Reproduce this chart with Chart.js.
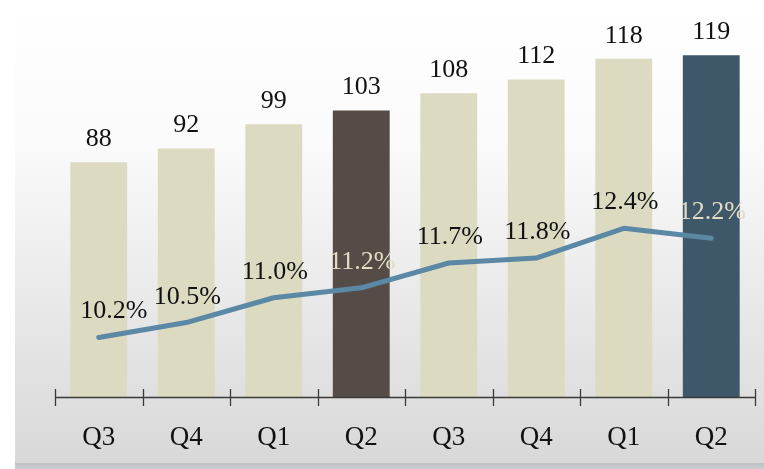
<!DOCTYPE html>
<html>
<head>
<meta charset="utf-8">
<script src="https://cdn.jsdelivr.net/npm/chart.js@4/dist/chart.umd.min.js"></script>
<style>
  html, body { margin: 0; padding: 0; background: #fff; }
  #wrap { position: relative; width: 764px; height: 469px; overflow: hidden; }
  #panel {
    position: absolute; left: 15px; top: 0; width: 749px; height: 463px;
    background: linear-gradient(to bottom, #ffffff 0%, #fbfbfb 30%, #e9e9e9 65%, #d8d8d8 100%);
  }
  #strip {
    position: absolute; left: 15px; top: 463px; width: 749px; height: 6px;
    background: linear-gradient(to bottom, #bcc0c3, #cdd0d2);
  }
  canvas { position: absolute; left: 0; top: 0; }
</style>
</head>
<body>
<div id="wrap">
  <div id="panel"></div>
  <div id="strip"></div>
  <canvas id="chart" width="764" height="469"></canvas>
</div>
<script>
// data
var quarters = ["Q3", "Q4", "Q1", "Q2", "Q3", "Q4", "Q1", "Q2"];
var volumes = [88, 92, 99, 103, 108, 112, 118, 119];
var margins = [10.2, 10.5, 11.0, 11.2, 11.7, 11.8, 12.4, 12.2];

var light = '#dcdac1';
var barColors = [light, light, light, '#554b47', light, light, light, '#3e5869'];
var pctColors = ['#111', '#111', '#111', '#e2dcc4', '#111', '#111', '#111', '#e2dcc4'];
var FONT = "'Liberation Serif', 'Times New Roman', serif";

// axis line with ticks crossing it, category labels, value labels
var labelsPlugin = {
    id: 'labelsPlugin',
    afterDatasetsDraw: function (chart) {
        var ctx = chart.ctx;
        var x = chart.scales.x;
        var bottom = chart.chartArea.bottom;

        ctx.save();
        ctx.strokeStyle = '#3a3a3a';
        ctx.lineWidth = 1.3;
        ctx.beginPath();
        ctx.moveTo(x.left, bottom + 0.5);
        ctx.lineTo(x.right, bottom + 0.5);
        var step = x.width / quarters.length;
        for (var i = 0; i <= quarters.length; i++) {
            var tx = Math.round(x.left + i * step) + 0.5;
            ctx.moveTo(tx, bottom - 8);
            ctx.lineTo(tx, bottom + 9);
        }
        ctx.stroke();

        ctx.font = '27px ' + FONT;
        ctx.textAlign = 'center';
        ctx.textBaseline = 'alphabetic';
        ctx.fillStyle = '#111';
        quarters.forEach(function (q, i) {
            ctx.fillText(q, x.getPixelForValue(i), bottom + 48);
        });

        ctx.font = '26px ' + FONT;
        var bars = chart.getDatasetMeta(0).data;
        bars.forEach(function (bar, i) {
            ctx.fillStyle = '#111';
            ctx.fillText(String(volumes[i]), bar.x, bar.y - 16);
        });

        var pts = chart.getDatasetMeta(1).data;
        pts.forEach(function (pt, i) {
            ctx.fillStyle = pctColors[i];
            var shift = i === 0 ? 15 : 1;
            ctx.fillText(margins[i].toFixed(1) + '%', pt.x + shift, pt.y - 19);
        });
        ctx.restore();
    }
};

var ctx = document.getElementById('chart');
var chart = new Chart(ctx, {
    data: {
        labels: quarters,
        datasets: [{
            type: 'bar',
            data: volumes,
            backgroundColor: barColors,
            yAxisID: 'y',
            barPercentage: 0.65,
            categoryPercentage: 1,
            order: 1
        }, {
            type: 'line',
            data: margins,
            borderColor: '#5b88a5',
            borderWidth: 5,
            borderCapStyle: 'round',
            borderJoinStyle: 'round',
            pointRadius: 0,
            tension: 0,
            yAxisID: 'y2',
            order: 0
        }]
    },
    plugins: [labelsPlugin],
    options: {
        responsive: false,
        animation: false,
        layout: { padding: { left: 55, right: 9, top: 0, bottom: 64 } },
        plugins: { legend: { display: false }, tooltip: { enabled: false } },
        scales: {
            x: {
                offset: true,
                grid: { display: false },
                border: { display: false },
                ticks: { display: false }
            },
            y: { display: false, min: 20, max: 135 },
            y2: { display: false, min: 9, max: 17 }
        }
    }
});
</script>
</body>
</html>
